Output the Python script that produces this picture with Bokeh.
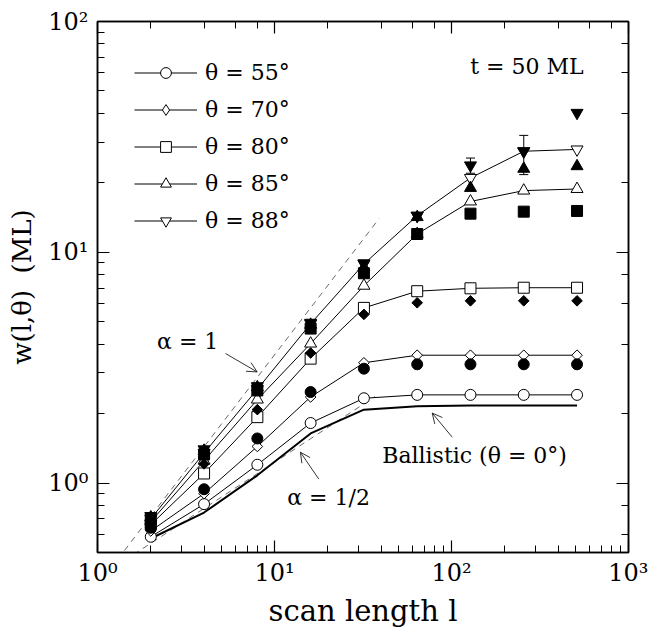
import numpy as np
from bokeh.plotting import figure
from bokeh.models import (LogAxis, Legend, LegendItem, Arrow, OpenHead, Label,
                          Whisker, ColumnDataSource, CustomJSTickFormatter, Range1d)
from bokeh.embed import file_html
from bokeh.resources import INLINE

# ---------------- data ----------------
scan_length = [2, 4, 8, 16, 32, 64, 128, 256, 512]

# open symbols (with lines)
w_55 = [0.585, 0.81, 1.20, 1.82, 2.33, 2.41, 2.41, 2.41, 2.41]
w_70 = [0.62, 0.90, 1.44, 2.36, 3.32, 3.58, 3.58, 3.58, 3.58]
w_80 = [0.66, 1.10, 1.93, 3.46, 5.74, 6.78, 6.98, 7.02, 7.02]
w_85 = [0.68, 1.25, 2.30, 4.02, 7.16, 12.0, 16.6, 18.5, 18.8]
w_88 = [0.70, 1.35, 2.55, 4.90, 8.90, 14.4, 21.0, 27.4, 27.9]

# filled symbols (no lines)
f_circle = [0.64, 0.94, 1.56, 2.48, 3.13, 3.27, 3.27, 3.27, 3.27]
f_diamond = [0.67, 1.21, 2.08, 3.66, 5.38, 6.04, 6.16, 6.16, 6.16]
f_square = [0.70, 1.33, 2.52, 4.67, 8.11, 12.0, 14.7, 15.0, 15.1]
f_triangle = [0.71, 1.38, 2.60, 4.85, 8.60, 14.2, 19.0, 23.0, 23.6]
f_inv_triangle = [0.72, 1.40, 2.63, 4.95, 8.96, 14.4, 23.8, 27.4, 40.2]

# ballistic (theta = 0)
ballistic = [0.575, 0.745, 1.08, 1.64, 2.08, 2.15, 2.17, 2.17, 2.17]

# error bars
err_x = [128, 256]
err_lower = [22.0, 21.7]
err_upper = [25.6, 32.1]

# reference power laws (end points)
alpha1_x = [1.42, 39.0]
alpha1_y = [0.51, 14.0]
alpha_half_x = [1.6, 37.0]
alpha_half_y = [0.49, 2.37]

legend_labels = ["θ = 55°", "θ = 70°", "θ = 80°", "θ = 85°", "θ = 88°"]

FONT = "DejaVu Serif"

# ---------------- figure ----------------
p = figure(width=648, height=633, x_axis_type="log", y_axis_type="log",
           x_range=Range1d(1, 1000), y_range=Range1d(0.5, 100),
           output_backend="svg", toolbar_location=None,
           min_border_left=97, min_border_right=20,
           min_border_top=21, min_border_bottom=81)
p.xgrid.visible = False
p.ygrid.visible = False
p.outline_line_color = "black"
p.outline_line_width = 1.5
p.background_fill_color = "white"
p.border_fill_color = "white"

fmt = CustomJSTickFormatter(code="""
const sup = {'-':'\u207b','0':'\u2070','1':'\u00b9','2':'\u00b2','3':'\u00b3','4':'\u2074',
             '5':'\u2075','6':'\u2076','7':'\u2077','8':'\u2078','9':'\u2079'};
const e = Math.round(Math.log10(tick));
return '10' + String(e).split('').map(c => sup[c]).join('');
""")
blank_fmt = CustomJSTickFormatter(code="return ' ';")


def style_axis(ax):
    ax.major_tick_in = 12
    ax.major_tick_out = 0
    ax.minor_tick_in = 7
    ax.minor_tick_out = 0
    ax.axis_line_width = 1.5
    ax.axis_line_color = "black"
    ax.major_tick_line_color = "black"
    ax.minor_tick_line_color = "black"
    ax.major_tick_line_width = 1.2
    ax.minor_tick_line_width = 1
    ax.major_label_text_font = FONT
    ax.major_label_text_font_size = "24px"
    ax.major_label_text_color = "black"
    ax.axis_label_text_font = FONT
    ax.axis_label_text_font_style = "normal"
    ax.axis_label_text_color = "black"


xa = p.xaxis[0]
ya = p.yaxis[0]
style_axis(xa)
style_axis(ya)
xa.formatter = fmt
ya.formatter = fmt
xa.major_label_standoff = 6
ya.major_label_standoff = 9
xa.axis_label = "scan length l"
xa.axis_label_text_font_size = "29px"
xa.axis_label_standoff = 4
ya.axis_label = "w(l,θ)\u00a0\u00a0(ML)"
ya.axis_label_text_font_size = "26px"
ya.axis_label_standoff = 8

top_ax = LogAxis()
right_ax = LogAxis()
for ax in (top_ax, right_ax):
    style_axis(ax)
    ax.formatter = blank_fmt
    ax.major_label_text_font_size = "2px"
    ax.major_label_text_alpha = 0
    ax.major_label_standoff = 0
p.add_layout(top_ax, "above")
p.add_layout(right_ax, "right")

# ---------------- reference lines ----------------
p.line(alpha1_x, alpha1_y, line_dash="6 5", line_color="#444444", line_width=0.8)
p.line(alpha_half_x, alpha_half_y, line_dash="6 5", line_color="#444444", line_width=0.8)
p.line(scan_length, ballistic, line_color="black", line_width=2)

# marker specs: (marker, size, angle, legend marker)
DIAMOND = ("square", 7.5, np.pi / 4, "diamond")

# ---------------- open series ----------------
open_series = [
    (w_55, ("circle", 11, 0, None)),
    (w_70, DIAMOND),
    (w_80, ("square", 11, 0, None)),
    (w_85, ("triangle", 12, 0, None)),
    (w_88, ("inverted_triangle", 12, 0, None)),
]
items = []
for (vals, (marker, size, ang, leg_marker)), lab in zip(open_series, legend_labels):
    lr = p.line(scan_length, vals, line_color="black", line_width=1)
    key_r = None
    if leg_marker is not None:
        # upright diamond used for the legend key; hidden beneath the rotated squares
        key_r = p.scatter(scan_length, vals, marker=leg_marker, size=9,
                          fill_color="white", line_color="black", line_width=1)
    sr = p.scatter(scan_length, vals, marker=marker, size=size, angle=ang,
                   fill_color="white", line_color="black", line_width=1)
    items.append(LegendItem(label=lab, renderers=[lr, key_r if key_r is not None else sr]))

# ---------------- filled series ----------------
filled_series = [
    (f_circle, ("circle", 11, 0)),
    (f_diamond, DIAMOND[:3]),
    (f_square, ("square", 11, 0)),
    (f_triangle, ("triangle", 12, 0)),
    (f_inv_triangle, ("inverted_triangle", 12, 0)),
]
for vals, (marker, size, ang) in filled_series:
    p.scatter(scan_length, vals, marker=marker, size=size, angle=ang,
              fill_color="black", line_color="black", line_width=1)

# error bars
err_src = ColumnDataSource(dict(x=err_x, lower=err_lower, upper=err_upper))
wh = Whisker(source=err_src, base="x", lower="lower", upper="upper",
             line_color="black", line_width=1)
wh.upper_head.size = 9
wh.lower_head.size = 9
wh.upper_head.line_color = "black"
wh.lower_head.line_color = "black"
p.add_layout(wh)

# ---------------- legend ----------------
legend = Legend(items=items, location=(37, 318), glyph_width=63, glyph_height=27,
                spacing=10, padding=0, margin=0, label_standoff=8,
                label_text_font=FONT, label_text_font_size="22px",
                label_text_color="black",
                border_line_color=None, background_fill_alpha=0)
p.add_layout(legend)

# ---------------- annotations ----------------
def add_label(x, y, text, align="left"):
    p.add_layout(Label(x=x, y=y, text=text, text_font=FONT, text_font_size="22px",
                       text_align=align, text_baseline="middle", text_color="black"))

add_label(2.17, 4.09, "α = 1")
add_label(11.8, 0.866, "α = 1/2")
add_label(40.6, 1.31, "Ballistic (θ = 0°)")
add_label(557, 64.1, "t = 50 ML", align="right")

for (xs, ys, xe, ye) in [(5.29, 3.64, 7.98, 3.03),
                         (17.8, 1.04, 14.0, 1.36),
                         (101, 1.58, 77.8, 2.01)]:
    p.add_layout(Arrow(end=OpenHead(size=10, line_width=0.8, line_color="black"),
                       x_start=xs, y_start=ys, x_end=xe, y_end=ye,
                       line_width=0.8, line_color="black"))

open("out.html", "w").write(file_html(p, INLINE))
